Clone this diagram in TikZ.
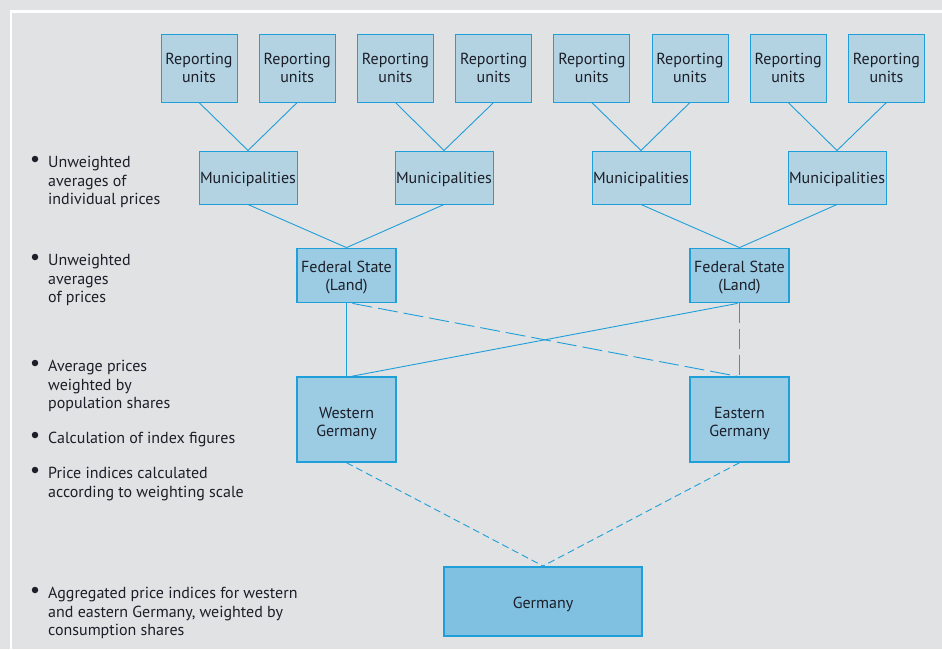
\documentclass[tikz,border=0pt]{standalone}
\usepackage{fontspec}
\setmainfont{PT Sans}
\definecolor{bg}{HTML}{E1E2E4}
\definecolor{lbox}{HTML}{B3D3E3}
\definecolor{mbox}{HTML}{9CCBE4}
\definecolor{gbox}{HTML}{80C1E1}
\definecolor{ln}{HTML}{1E9FD9}
\definecolor{txt}{HTML}{1C1E28}
\begin{document}
\begin{tikzpicture}[x=1pt,y=-1pt,
  every node/.style={font=\fontsize{16}{18.5}\selectfont, text=txt, align=center, inner sep=0pt},
  rbox/.style={draw=ln, line width=1pt, fill=lbox, minimum width=76pt, minimum height=68pt},
  mbx/.style={draw=ln, line width=1pt, fill=lbox, minimum width=98pt, minimum height=53pt},
  fbox/.style={draw=ln, line width=1.8pt, fill=mbox, minimum width=99pt, minimum height=54pt},
  wbox/.style={draw=ln, line width=1.4pt, fill=mbox, minimum width=99pt, minimum height=85pt},
  gbx/.style={draw=ln, line width=2pt, fill=gbox, minimum width=198pt, minimum height=69pt},
  btext/.style 2 args={label={[yshift=#1, align=center]center:#2}},
  conn/.style={draw=ln, line width=0.9pt},
  longdash/.style={conn, dash pattern=on 20pt off 6pt},
  shortdash/.style={conn, dash pattern=on 7pt off 4pt},
  bul/.style={anchor=north west, align=left},
  dot/.style={circle, fill=txt, minimum size=6.5pt, inner sep=0pt}
]
\useasboundingbox (0,0) rectangle (942,649);
\fill[bg] (0,0) rectangle (942,649);
\draw[white, line width=2.5pt] (942,11.5) -- (11,11.5) -- (11,649);

% reporting units
\foreach \i/\x in {1/199,2/297.2,3/395.4,4/493.6,5/591.8,6/690,7/788.2,8/886.4}
  \node[rbox] (r\i) at (\x,68) {Reporting\\units};
% municipalities
\foreach \i/\x in {1/248,2/444,3/641,4/837}
  \node[mbx, btext={-2pt}{Municipalities}] (m\i) at (\x,177.5) {};
% federal states
\node[fbox, btext={-2pt}{Federal State\\(Land)}] (f1) at (346.5,275.5) {};
\node[fbox, btext={-2pt}{Federal State\\(Land)}] (f2) at (739.5,275.5) {};
% west/east
\node[wbox, btext={-4pt}{Western\\Germany}] (w) at (346.5,419.5) {};
\node[wbox, btext={-4pt}{Eastern\\Germany}] (e) at (739.5,419.5) {};
% germany
\node[gbx, btext={-3pt}{Germany}] (g) at (543,601.5) {};

% connectors
\foreach \a/\b in {r1/m1,r2/m1,r3/m2,r4/m2,r5/m3,r6/m3,r7/m4,r8/m4}
  \draw[conn] (\a.south) -- (\b.north);
\draw[conn] (m1.south) -- (f1.north);
\draw[conn] (m2.south) -- (f1.north);
\draw[conn] (m3.south) -- (f2.north);
\draw[conn] (m4.south) -- (f2.north);
\draw[conn] (f1.south) -- (w.north);
\draw[conn] ([xshift=-2pt]f2.south) -- ([xshift=5pt]w.north);
\draw[longdash] ([xshift=6pt]f1.south) -- ([xshift=-2pt]e.north);
\draw[longdash] (f2.south) -- (e.north);
\draw[shortdash] (w.south) -- (g.north);
\draw[shortdash] (e.south) -- (g.north);

% bullet texts
\foreach \n/\y in {1/152,2/250,3/356,4/428,5/463,6/583}
  \node[dot] (d\n) at (35,\y+7) {};
\node[bul] (t1) at (48,156) {Unweighted\\averages of\\individual prices};
\node[bul] (t2) at (48,254) {Unweighted\\averages\\of prices};
\node[bul] (t3) at (48,360) {Average prices\\weighted by\\population shares};
\node[bul] (t4) at (48,432) {Calculation of index figures};
\node[bul] (t5) at (48,467) {Price indices calculated\\according to weighting scale};
\node[bul] (t6) at (48,587) {Aggregated price indices for western\\and eastern Germany, weighted by\\consumption shares};
\end{tikzpicture}
\end{document}
